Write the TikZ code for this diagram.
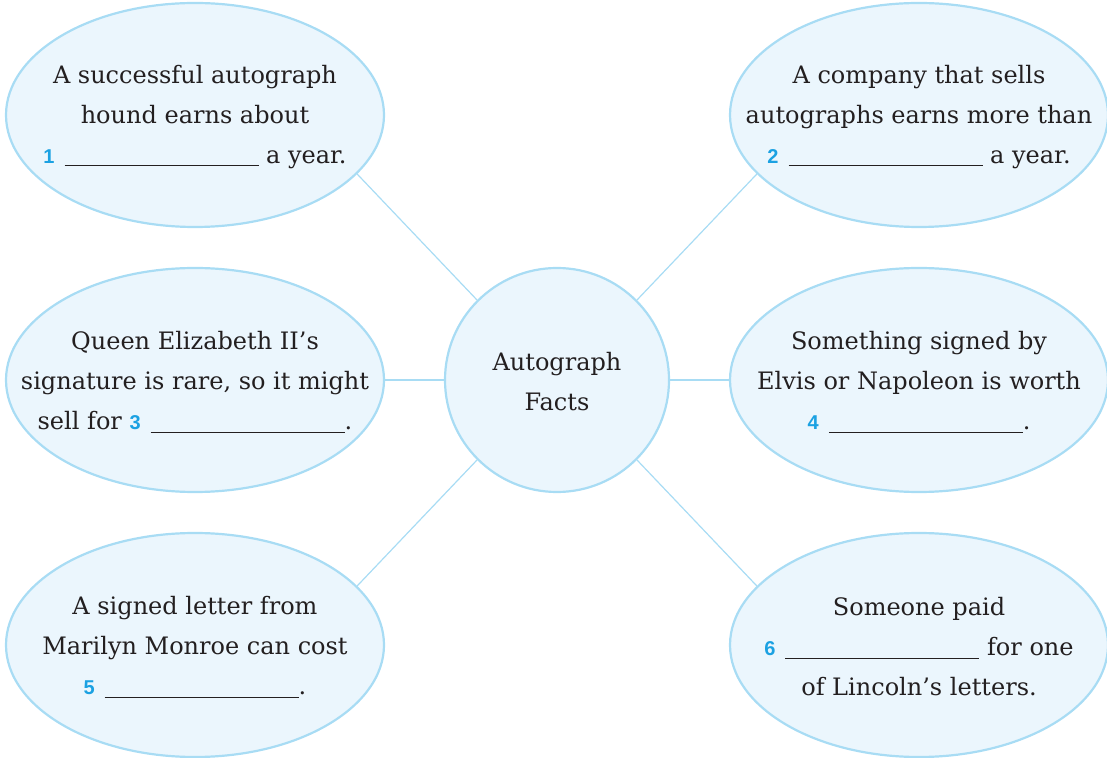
\documentclass[tikz,border=0pt]{standalone}
\usepackage{fontspec}
\setmainfont{DejaVu Serif}
\newfontfamily\numfont{Liberation Sans}
\usetikzlibrary{shapes.geometric}
\definecolor{bubblefill}{HTML}{EBF6FD}
\definecolor{bubbleline}{HTML}{A8DCF4}
\definecolor{numblue}{HTML}{1BA1E2}
\definecolor{inktext}{HTML}{231F20}
\newcommand{\blank}[1]{{\numfont\bfseries\fontsize{10}{11}\selectfont\color{numblue}#1}\hspace{5pt}\rule[-1.5pt]{97pt}{0.55pt}}

\begin{document}
\begin{tikzpicture}[x=0.5pt,y=-0.5pt,
  bubble/.style={ellipse,draw=bubbleline,line width=1.1pt,fill=bubblefill,
    minimum width=189pt,minimum height=112pt,inner sep=0pt},
  hubnode/.style={circle,draw=bubbleline,line width=1.1pt,fill=bubblefill,
    minimum size=112pt,inner sep=0pt},
  fact/.style={align=center,text=inktext,inner sep=0pt,
    font=\fontsize{12}{20}\selectfont},
  link/.style={draw=bubbleline,line width=0.6pt}]
\useasboundingbox (0,0) rectangle (1107,758);

% hub and bubbles
\node[hubnode] (hub) at (557,380) {};
\node[fact] (hubtext) at ([yshift=-1pt]hub) {Autograph\\Facts};

\node[bubble] (tl) at (195,115) {};
\node[bubble] (tr) at (919,115) {};
\node[bubble] (ml) at (195,380) {};
\node[bubble] (mr) at (919,380) {};
\node[bubble] (bl) at (195,645) {};
\node[bubble] (br) at (919,645) {};

\node[fact] (tltext) at ([yshift=-1pt]tl) {A successful autograph\\hound earns about\\\blank{1} a year.};
\node[fact] (trtext) at ([yshift=-1pt]tr) {A company that sells\\autographs earns more than\\\blank{2} a year.};
\node[fact] (mltext) at ([yshift=-1pt]ml) {Queen Elizabeth II’s\\signature is rare, so it might\\sell for \blank{3}.};
\node[fact] (mrtext) at ([yshift=-1pt]mr) {Something signed by\\Elvis or Napoleon is worth\\\blank{4}.};
\node[fact] (bltext) at ([yshift=-1pt]bl) {A signed letter from\\Marilyn Monroe can cost\\\blank{5}.};
\node[fact] (brtext) at ([yshift=-1pt]br) {Someone paid\\\blank{6} for one\\of Lincoln’s letters.};

% spokes
\draw[link] (hub.135) -- (tl.-20);
\draw[link] (hub.45) -- (tr.-160);
\draw[link] (hub.west) -- (ml.east);
\draw[link] (hub.east) -- (mr.west);
\draw[link] (hub.-135) -- (bl.20);
\draw[link] (hub.-45) -- (br.160);
\end{tikzpicture}
\end{document}
